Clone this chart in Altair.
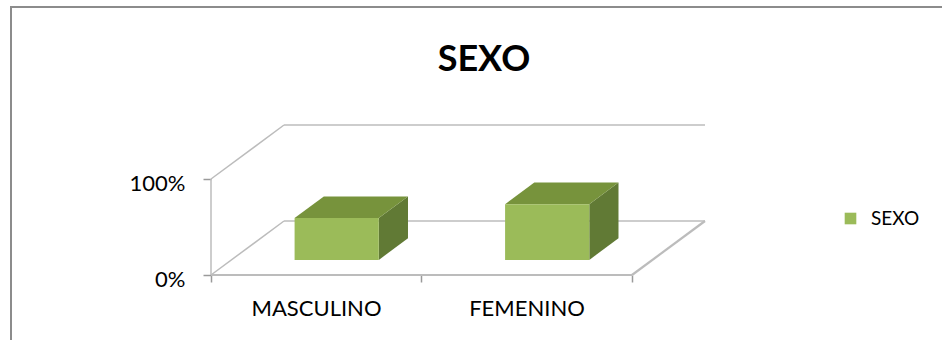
import altair as alt
import pandas as pd

# ---- data ----
categories = ["MASCULINO", "FEMENINO"]
values = [43.5, 58.0]          # percent
series_name = "SEXO"
chart_title = "SEXO"
y_ticks = [0, 100]

# ---- 3D geometry (style) ----
DX = 0.3468      # depth offset in category units
DY = 56.25       # depth offset in percent units
D0, D1 = 0.28, 0.68   # bar depth range (fraction of full depth)
B0, B1 = 0.30, 0.70   # bar span inside a category
N = len(categories)
XDOM = [0, N + DX]
YDOM = [0, 100 + DY]

FRONT = "#9BBB59"
TOP = "#77933C"
SIDE = "#617A35"
GRID = "#BCBCBC"
FONT = "Lato"

xs = alt.Scale(domain=XDOM, nice=False, zero=False)
ys = alt.Scale(domain=YDOM, nice=False, zero=False)

# wall / floor lines
seg = []
seg.append(dict(x=0, y=0, x2=0, y2=max(y_ticks), w=1.5))
for t in y_ticks:
    seg.append(dict(x=0, y=t, x2=DX, y2=t + DY, w=1.5))
    seg.append(dict(x=DX, y=t + DY, x2=N + DX, y2=t + DY, w=1.5))
seg.append(dict(x=0, y=0, x2=N, y2=0, w=2.2))
seg.append(dict(x=N, y=0, x2=N + DX, y2=DY, w=2.2))
seg_df = pd.DataFrame(seg)

front_rows, top_rows, side_rows = [], [], []
for i, (c, v) in enumerate(zip(categories, values)):
    front_rows.append(dict(cat=c, serie=series_name,
                           x=i + B0 + D0 * DX, x2=i + B1 + D0 * DX,
                           y=D0 * DY, y2=v + D0 * DY))
    for d in (D0, D1):
        top_rows.append(dict(cat=c, y=v + d * DY,
                             x=i + B0 + d * DX, x2=i + B1 + d * DX))
        side_rows.append(dict(cat=c, x=i + B1 + d * DX,
                              y=d * DY, y2=v + d * DY))
front_df = pd.DataFrame(front_rows)
top_df = pd.DataFrame(top_rows)
side_df = pd.DataFrame(side_rows)

label_expr = str(categories).replace("'", '"') + "[datum.value] || ''"

walls = alt.Chart(seg_df).mark_rule(color=GRID).encode(
    x=alt.X("x:Q", scale=xs,
            axis=alt.Axis(values=list(range(N + 1)), title=None, domain=False, grid=False,
                          tickSize=7, tickColor="#9a9a9a", tickWidth=1.5,
                          labelExpr=label_expr, labelOffset=105, labelFlush=False,
                          labelOverlap=False, labelPadding=16, labelFont=FONT,
                          labelFontSize=22, labelColor="#000000")),
    x2="x2:Q",
    y=alt.Y("y:Q", scale=ys,
            axis=alt.Axis(values=y_ticks, title=None, domain=False, grid=False,
                          tickSize=8, tickColor="#9a9a9a", tickWidth=1.5,
                          labelExpr="datum.value + '%'", labelPadding=18,
                          labelOffset=4, labelFont=FONT, labelFontSize=22,
                          labelColor="#000000")),
    y2="y2:Q",
    strokeWidth=alt.StrokeWidth("w:Q", scale=None, legend=None),
)

side = alt.Chart(side_df).mark_area(orient="vertical", color=SIDE).encode(
    x=alt.X("x:Q", scale=xs), y=alt.Y("y:Q", scale=ys), y2="y2:Q", detail="cat:N")

top = alt.Chart(top_df).mark_area(orient="horizontal", color=TOP).encode(
    y=alt.Y("y:Q", scale=ys), x=alt.X("x:Q", scale=xs), x2="x2:Q", detail="cat:N")

front = alt.Chart(front_df).mark_rect().encode(
    x=alt.X("x:Q", scale=xs), x2="x2:Q",
    y=alt.Y("y:Q", scale=ys), y2="y2:Q",
    color=alt.Color("serie:N", scale=alt.Scale(domain=[series_name], range=[FRONT]),
                    legend=alt.Legend(title=None, orient="none", legendX=630, legendY=84,
                                      symbolType="square", symbolSize=135,
                                      symbolStrokeWidth=0, labelFont=FONT,
                                      labelFontSize=19, labelOffset=11,
                                      labelColor="#000000", padding=0)),
)

frame = alt.Chart(pd.DataFrame({"k": [0]})).mark_rect(
    filled=False, stroke="#8C8C8C", strokeWidth=2).encode(
    x=alt.value(-200), y=alt.value(-118), x2=alt.value(800), y2=alt.value(300))

title = alt.Chart(pd.DataFrame({"t": [chart_title]})).mark_text(
    font=FONT, fontSize=36, fontWeight="bold", color="#000000",
    align="center", baseline="alphabetic").encode(
    text="t:N", x=alt.value(273), y=alt.value(-54))

chart = alt.layer(frame, title, walls, side, top, front).properties(
    width=494, height=150,
    autosize=alt.AutoSizeParams(type="none"),
    padding={"left": 211, "top": 125, "right": 237, "bottom": 65},
).configure_view(stroke=None)

chart.save("out.html", embed_options={"renderer": "svg", "actions": False})
